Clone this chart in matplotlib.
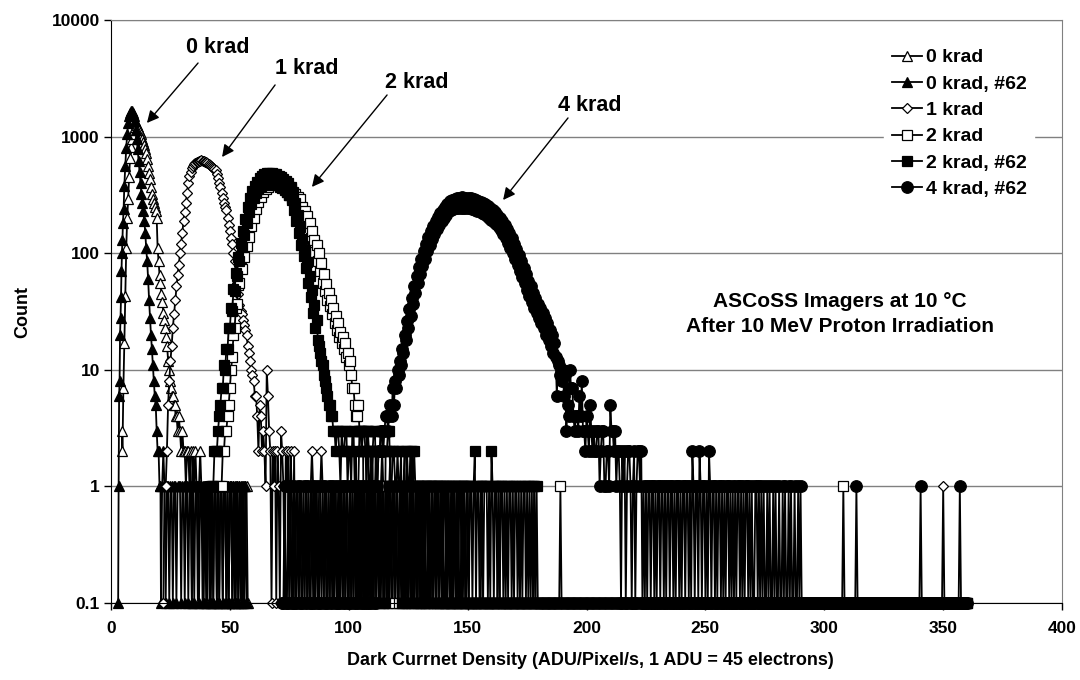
import numpy as np
import matplotlib
matplotlib.use("Agg")
import matplotlib.pyplot as plt
from matplotlib.ticker import FixedLocator, FixedFormatter, NullLocator

plt.rcParams["font.family"] = ["Liberation Sans", "DejaVu Sans"]
plt.rcParams["font.weight"] = "bold"

FLOOR = 0.1  # empty bins are shown on the bottom of the log axis

# Tails are stored either as digit strings (one count per bin, starting at
# `start`) or as sparse {x: count} dicts over a run of empty bins.

# ---- 0 krad (open triangles) ----
k0_x = [4.6, 4.8, 5.2, 5.6, 6.0, 6.4, 6.8, 7.2, 7.6, 8.0, 8.4, 8.8, 9.2, 9.6, 10.0,
        10.4, 10.8, 11.2, 11.6, 12.0, 12.4, 12.8, 13.2, 13.6, 14.0, 14.4, 14.8, 15.2,
        15.6, 16.0, 16.4, 16.8, 17.2, 17.6, 18.0, 18.4, 18.8, 19.2, 19.6, 20.0, 20.4,
        20.8, 21.2, 21.6, 22.0, 22.4, 22.8, 23.2, 23.6, 24.0, 24.4, 24.8, 25.2, 25.6,
        26.0, 26.4, 26.8, 27.2, 27.6, 28.0, 28.5, 29.0, 29.5, 30.0, 30.5, 31.0, 31.5,
        32.0, 32.5, 33.0, 33.5, 34.0, 34.5, 35.0, 35.5, 36.0]
k0_y = [3, 2, 7, 17, 43, 110, 200, 290, 450, 650, 820, 950, 1050, 1150, 1200,
        1250, 1250, 1200, 1150, 1100, 1050, 1000, 950, 900, 850, 790, 720, 640,
        560, 490, 430, 370, 320, 290, 270, 250, 230, 200, 110, 85, 65,
        55, 45, 38, 31, 27, 23, 19, 16, 12, 10, 8, 7, 6,
        6, 5, 5, 4, 4, 3, 4, 3, 2, 3, 2, 2, 1,
        2, 2, 1, 2, 0, 2, 1, 2, 1]
k0_tail = [(36.5, 0.5, "0121101101" "1010110101" "1011010110" "1011010101" "110")]

# ---- 0 krad, #62 (filled triangles) ----
k0b_x = [3.0, 3.2, 3.4, 3.6, 3.8, 4.0, 4.2, 4.4, 4.6, 4.8, 5.0, 5.3, 5.6, 6.0, 6.4,
         6.8, 7.2, 7.6, 8.0, 8.4, 8.8, 9.2, 9.6, 10.0, 10.4, 10.8, 11.2, 11.6, 12.0,
         12.4, 12.8, 13.2, 13.6, 14.0, 14.4, 14.8, 15.2, 15.6, 16.0, 16.4, 16.8, 17.2,
         17.6, 18.0, 18.4, 18.8, 19.2, 19.6, 20.0, 20.4, 20.8]
k0b_y = [0, 1, 6, 8, 20, 28, 42, 70, 100, 130, 180, 240, 380, 560, 800,
         1050, 1300, 1500, 1600, 1650, 1650, 1600, 1500, 1350, 1150, 950, 780, 620, 500,
         400, 320, 270, 230, 190, 150, 110, 85, 60, 40, 28, 20, 15,
         11, 8, 6, 5, 3, 2, 2, 1, 1]
k0b_tail = [(21.0, 0.5, "0121011011" "0110111011" "0110110101" "1101101101"
                        "1011011010" "1101101011" "0110101101" "010")]

# ---- 1 krad (open diamonds), bins of 0.5 from 22 to 77 ----
k1_x = list(np.arange(22.0, 77.01, 0.5))
k1_y = [0, 1, 1, 2, 5, 8, 12, 16, 23, 30, 40, 52, 65, 80, 100, 120, 150, 190, 225,
        270, 330, 400, 460, 500, 540, 560, 580, 590, 600, 610, 615, 620, 625, 620,
        615, 605, 600, 590, 580, 570, 560, 550, 540, 530, 520, 480, 440, 400, 370,
        330, 300, 270, 250, 235, 200, 175, 155, 135, 120, 100, 85, 70, 55, 45, 36,
        32, 30, 27, 24, 22, 20, 16, 14, 12, 10, 9, 8, 6, 6, 4, 2, 5, 4, 2, 3, 2, 1,
        10, 6, 3, 2, 0, 2, 1, 2, 0, 2, 1, 0, 3, 2, 1, 0, 2, 1, 2, 0, 2, 1, 0, 2]
k1_tail = [(77.5, 0.5, "0110110111" "0101210110" "1121011010" "1101101011"
                       "0101101010" "1101010110" "1010101101" "0101001010"
                       "1001010010" "1001001010" "0100100101" "001001"),
           (135.5, 360.0, 0.5, {350.0: 1})]

# ---- 2 krad (open squares), bins of 0.5 from 46 to 110 ----
k2_x = list(np.arange(46.0, 110.01, 0.5))
k2_y = [1, 1, 2, 2, 3, 3, 4, 5, 7, 10,
        13, 20, 23, 34, 37, 53, 55, 74, 73, 96,
        92, 120, 115, 146, 138, 178, 170, 214, 202, 254,
        240, 296, 276, 334, 304, 366, 332, 394, 354, 418,
        372, 436, 386, 450, 396, 458, 400, 458, 396, 450,
        386, 436, 372, 418, 354, 398, 336, 376, 318, 356,
        300, 338, 286, 322, 272, 304, 254, 290, 230, 250,
        202, 232, 180, 208, 156, 180, 134, 156, 116, 130,
        102, 118, 86, 100, 70, 82, 56, 66, 47, 54,
        40, 46, 35, 40, 30, 34, 25, 29, 22, 25,
        19, 21, 17, 19, 15, 17, 13, 14, 11, 12,
        9, 7, 7, 5, 4, 4, 5, 3, 3, 2,
        3, 3, 2, 1, 3, 2, 2, 1, 2]
k2_tail = [(110.5, 0.5, "0121101210" "1101201101" "1011010110" "1021010110"
                        "1010110101" "0101101010" "0101001010" "0100101001"),
           (150.5, 360.0, 0.5, {156.0: 1, 163.0: 1, 178.0: 1, 189.0: 1, 308.0: 1})]

# ---- 2 krad, #62 (filled squares), bins of 0.5 from 42 to 120 ----
k2b_x = list(np.arange(42.0, 120.01, 0.5))
k2b_y = [1, 1, 1, 2, 2, 2, 3, 4, 5, 7,
         7, 11, 10, 15, 15, 23, 23, 34, 32, 49,
         47, 68, 64, 93, 86, 122, 112, 156, 142, 198,
         182, 248, 226, 296, 262, 340, 300, 380, 330, 412,
         355, 440, 375, 460, 390, 475, 398, 485, 400, 490,
         402, 488, 398, 482, 392, 474, 382, 462, 372, 450,
         362, 436, 350, 420, 338, 400, 318, 368, 284, 326,
         236, 268, 190, 212, 150, 168, 118, 132, 94, 106,
         74, 84, 56, 64, 42, 48, 31, 36, 23, 27,
         18, 16, 14, 12, 11, 9, 8, 7, 6, 5,
         5, 4, 4, 3, 3, 2, 3, 3, 2, 1,
         3, 2, 2, 3, 3, 1, 2, 2, 1, 3,
         3, 1, 2, 0, 1, 3, 3, 2, 2, 0,
         0, 3, 3, 1, 1, 2, 2, 3, 3, 1,
         1, 2, 2, 3, 3, 0, 0, 2, 2, 3,
         3, 1, 1, 2, 2, 1, 1]
k2b_tail = [(120.5, 0.5, "2112012021" "1201211011" "0110110111" "0110101101"
                         "1011010110" "1011011011" "0110120110" "1101110102"
                         "1011010110" "1010110101" "1010101101" "0101010100"),
            (180.5, 360.0, 0.5, {})]

# ---- 4 krad, #62 (filled circles), bins of 0.5 from 112 to 225 ----
k4_head = [(72.0, 0.5, "0010010100" "1001010010" "1010010101" "0010101001"
                       "0101010010" "1010100101" "0101010101" "0010101010")]
k4_x = list(np.arange(112.0, 225.01, 0.5))
k4_y = [1, 2, 2, 3, 3, 2, 3, 4, 4, 3,
        4, 5, 4, 7, 5, 8, 7, 10, 9, 12,
        11, 15, 14, 20, 18, 26, 23, 33, 29, 41,
        37, 52, 46, 64, 56, 76, 66, 90, 78, 104,
        90, 120, 104, 138, 118, 156, 132, 172, 146, 190,
        160, 206, 174, 222, 188, 236, 200, 250, 212, 262,
        230, 278, 236, 286, 240, 292, 242, 298, 244, 300,
        246, 302, 246, 300, 246, 300, 244, 298, 242, 296,
        240, 292, 236, 288, 232, 282, 228, 276, 222, 268,
        216, 262, 210, 254, 202, 246, 194, 236, 186, 226,
        178, 214, 168, 202, 158, 190, 146, 176, 134, 162,
        122, 148, 111, 134, 100, 120, 89, 108, 80, 96,
        70, 85, 62, 75, 55, 66, 48, 58, 43, 52,
        38, 46, 34, 41, 31, 37, 28, 34, 25, 31,
        23, 28, 20, 25, 18, 22, 16, 20, 14, 17,
        13, 6, 12, 11, 9, 8, 10, 6, 9, 3,
        5, 4, 10, 7, 7, 4, 3, 4, 4, 3,
        6, 4, 8, 3, 3, 2, 4, 3, 2, 5,
        3, 2, 3, 2, 2, 3, 3, 1, 2, 3,
        3, 1, 1, 2, 2, 1, 5, 3, 3, 2,
        3, 1, 2, 2, 1, 0, 2, 1, 2, 0,
        1, 2, 2, 1, 0, 1, 2, 0, 1, 2,
        2, 1, 2, 0, 1, 0, 1]
k4_tail = [(225.5, 0.5, "0110110101" "1011010110" "1101011010" "1101101021"
                        "0110210110" "1021011010" "1101010110" "1010101101"
                        "0101101010" "0110101010" "0101001010" "0100101001"
                        "0100100101"),
           (290.5, 360.0, 0.5, {313.5: 1, 340.5: 1, 357.0: 1})]

labels = ["0 krad", "0 krad, #62", "1 krad", "2 krad", "2 krad, #62", "4 krad, #62"]


def segment_bins(seg):
    if len(seg) == 3:
        start, step, digits = seg
        by = np.array([int(c) for c in digits], float)
        bx = start + step * np.arange(len(by))
        return bx, by
    start, stop, step, counts = seg
    bx = np.arange(start, stop + step / 2, step)
    by = np.zeros_like(bx)
    for x, c in counts.items():
        by[np.isclose(bx, x)] = c
    return bx, by


def build(core_x, core_y, *seg_lists):
    assert len(core_x) == len(core_y)
    xs = [np.asarray(core_x, float)]
    ys = [np.asarray(core_y, float)]
    for segs in seg_lists:
        for seg in segs:
            bx, by = segment_bins(seg)
            xs.append(bx)
            ys.append(by)
    x = np.concatenate(xs)
    y = np.concatenate(ys)
    order = np.argsort(x, kind="stable")
    x, y = x[order], y[order]
    return x, np.where(y > 0, y, FLOOR)


series = [
    build(k0_x, k0_y, k0_tail),
    build(k0b_x, k0b_y, k0b_tail),
    build(k1_x, k1_y, k1_tail),
    build(k2_x, k2_y, k2_tail),
    build(k2b_x, k2b_y, k2b_tail),
    build(k4_x, k4_y, k4_head, k4_tail),
]
styles = [
    dict(marker="^", mfc="white", ms=7.4),
    dict(marker="^", mfc="black", ms=7.4),
    dict(marker="D", mfc="white", ms=5.6),
    dict(marker="s", mfc="white", ms=7.2),
    dict(marker="s", mfc="black", ms=7.2),
    dict(marker="o", mfc="black", ms=8.3),
]

fig = plt.figure(figsize=(10.8, 6.8), dpi=100)
ax = fig.add_axes([0.1028, 0.1132, 0.8806, 0.8574])

for (x, y), st, lab in zip(series, styles, labels):
    ax.plot(x, y, color="black", lw=1.3, mec="black", mew=0.9, label=lab,
            clip_on=False, **st)

ax.set_yscale("log")
ax.set_ylim(0.1, 10000)
ax.set_xlim(0, 400)

yt = [0.1, 1, 10, 100, 1000, 10000]
ax.yaxis.set_major_locator(FixedLocator(yt))
ax.yaxis.set_major_formatter(FixedFormatter(["0.1", "1", "10", "100", "1000", "10000"]))
ax.yaxis.set_minor_locator(NullLocator())
ax.set_xticks(range(0, 401, 50))
ax.tick_params(axis="both", direction="out", length=5, width=1, labelsize=12.5)
ax.tick_params(axis="x", pad=8)
ax.tick_params(axis="y", pad=3)
for lab in ax.get_xticklabels() + ax.get_yticklabels():
    lab.set_fontweight("bold")

ax.grid(axis="y", which="major", color="#808080", lw=1)
ax.set_axisbelow(True)
for side in ("top", "right"):
    ax.spines[side].set_color("#808080")
ax.spines["left"].set_color("black")
ax.spines["bottom"].set_color("black")

ax.set_xlabel("Dark Currnet Density (ADU/Pixel/s, 1 ADU = 45 electrons)",
              fontsize=13, fontweight="bold", va="center")
ax.xaxis.set_label_coords(0.504, -0.098)
ax.set_ylabel("Count", fontsize=13, fontweight="bold", va="center")
ax.yaxis.set_label_coords(-0.093, 0.5)

# peak labels with arrows
notes = [
    ("0 krad", (45.0, 5865), (36.6, 4276), (15.1, 1309)),
    ("1 krad", (82.4, 3874), (69.0, 2773), (46.7, 668)),
    ("2 krad", (128.7, 2939), (116.1, 2275), (84.5, 370)),
    ("4 krad", (201.5, 1830), (192.2, 1445), (164.9, 286)),
]
for txt, tpos, tail, head in notes:
    ax.text(*tpos, txt, fontsize=15.5, fontweight="bold", ha="center", va="center")
    ax.annotate("", xy=head, xytext=tail,
                arrowprops=dict(arrowstyle="-|>", color="black", lw=1.0,
                                mutation_scale=18, shrinkA=0, shrinkB=0))

ax.text(306.6, 30.1, "ASCoSS Imagers at 10 °C\nAfter 10 MeV Proton Irradiation",
        fontsize=15, fontweight="bold", ha="center", va="center", linespacing=1.4)

leg = ax.legend(loc="upper left", bbox_to_anchor=(0.8128, 0.964), frameon=True,
                facecolor="white", edgecolor="white", framealpha=1, fancybox=False,
                fontsize=14, handlelength=1.55, handletextpad=0.2, labelspacing=0.45,
                borderpad=0.4, borderaxespad=0)
for t in leg.get_texts():
    t.set_fontweight("bold")

fig.savefig("out.png", dpi=100)
